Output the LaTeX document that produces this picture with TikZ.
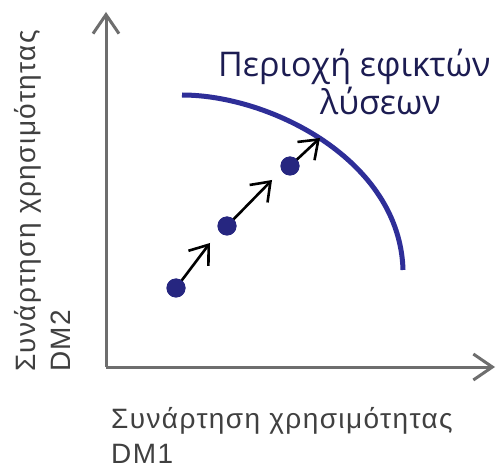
\documentclass[tikz,border=0pt]{standalone}
\usepackage{fontspec}
\setmainfont{Liberation Sans}
\newfontfamily\titlefont{Open Sans}
\newfontfamily\axfont[LetterSpace=5]{Liberation Sans}
\usetikzlibrary{arrows.meta}
\definecolor{axisgray}{HTML}{6E6E6E}
\definecolor{curveblue}{HTML}{2E2E98}
\definecolor{dotblue}{HTML}{262680}
\definecolor{titleblue}{HTML}{1C1C52}
\definecolor{labelgray}{HTML}{404040}
\tikzset{
  axisline/.style={draw=axisgray, line width=3pt, -{Straight Barb[length=19pt,width=26pt,line width=3pt]}},
  frontier/.style={draw=curveblue, line width=5pt},
  dotnode/.style={circle, fill=dotblue, inner sep=0pt, minimum size=19pt},
  steparrow/.style={draw=black, line width=2.6pt, -{Straight Barb[length=17pt,width=25pt,line width=2.6pt]}},
  axislabel/.style={font=\axfont\fontsize{28}{35.5}\selectfont, text=labelgray, align=left, inner sep=0pt},
  titlelabel/.style={font=\titlefont\fontsize{34}{38}\selectfont, text=titleblue, inner sep=0pt}
}
\begin{document}
\begin{tikzpicture}[x=1pt,y=-1pt]
\useasboundingbox (0,0) rectangle (496,468);
\fill[white] (0,0) rectangle (496,468);
% axes
\coordinate (O) at (106,367);
\coordinate (ytop) at (106,12);
\coordinate (xend) at (495,367);
\draw[axisline] (O) -- (ytop);
\draw[axisline] (O) -- (xend);
% frontier
\coordinate (f1) at (182,95);
\coordinate (f2) at (403,270);
\draw[frontier, line cap=butt] (f1) .. controls (270,95) and (400,160) .. (f2);
% dots
\node[dotnode] (d1) at (176,288) {};
\node[dotnode] (d2) at (227,226) {};
\node[dotnode] (d3) at (290,166) {};
\coordinate (t1) at (210,243);
\coordinate (t2) at (272,180);
\coordinate (t3) at (320,138);
\draw[steparrow] (d1.center) -- (t1);
\draw[steparrow] (d2.center) -- (t2);
\draw[steparrow] (d3.center) -- (t3);
\node[dotnode] at (d1) {};
\node[dotnode] at (d2) {};
\node[dotnode] at (d3) {};
% labels
\node[titlelabel, anchor=base west] (title1) at (218,77) {Περιοχή εφικτών};
\node[titlelabel, anchor=base west] (title2) at (320,115) {λύσεων};
\node[axislabel, anchor=base west] (xl1) at (111,428) {Συνάρτηση χρησιμότητας};
\node[axislabel, anchor=base west] (xl2) at (111,463) {DM1};
\node[axislabel, anchor=base west, rotate=90] (yl1) at (35,372) {Συνάρτηση χρησιμότητας};
\node[axislabel, anchor=base west, rotate=90] (yl2) at (70,372) {DM2};
\end{tikzpicture}
\end{document}
